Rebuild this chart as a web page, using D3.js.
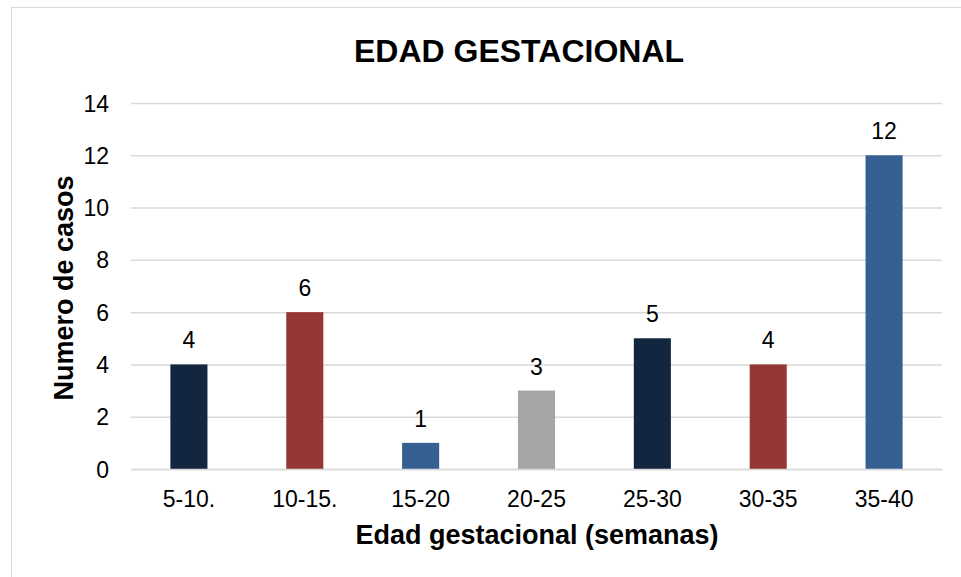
<!DOCTYPE html>
<html lang="es">
<head>
    <meta charset="UTF-8">
    <title>Edad gestacional</title>
    <style>
    html, body {
        margin: 0;
        padding: 0;
        background-color: #ffffff;
    }

    svg {
        display: block;
        font-family: "Liberation Sans", Arial, sans-serif;
    }

    .grid line {
        stroke: #d9d9d9;
        stroke-width: 1.5;
    }

    .tick-label {
        font-size: 23px;
        fill: #000000;
    }

    .bar-label {
        font-size: 23px;
        fill: #000000;
    }

    #title {
        font-size: 32px;
        font-weight: bold;
    }

    .axis-title {
        font-size: 27px;
        font-weight: bold;
    }
    </style>
    <script src="https://d3js.org/d3.v7.min.js"></script>
</head>
<body>
    <svg id="canvas"></svg>

    <script>
    // Data
    let categories = ['5-10.', '10-15.', '15-20', '20-25', '25-30', '30-35', '35-40'];
    let casos = [4, 6, 1, 3, 5, 4, 12];
    let barColors = ['#12263f', '#953735', '#376092', '#a5a5a5', '#12263f', '#953735', '#376092'];
    let yTicks = [0, 2, 4, 6, 8, 10, 12, 14];

    let width = 961;
    let height = 577;
    let plot = { left: 131, right: 942, top: 103, bottom: 469 };

    let svg = d3.select('#canvas')
        .attr('width', width)
        .attr('height', height);

    // Chart border
    svg.append('rect')
        .attr('x', 11.5)
        .attr('y', 7.5)
        .attr('width', 960)
        .attr('height', 580)
        .attr('fill', '#ffffff')
        .attr('stroke', '#d9d9d9')
        .attr('stroke-width', 1);

    // Scales
    let xScale = d3.scaleBand()
        .domain(categories)
        .range([plot.left, plot.right])
        .paddingInner(0.68)
        .paddingOuter(0.34);

    let yScale = d3.scaleLinear()
        .domain([0, 14])
        .range([plot.bottom, plot.top]);

    // Gridlines + y tick labels
    let yAxis = d3.axisLeft(yScale)
        .tickValues(yTicks)
        .tickSize(-(plot.right - plot.left))
        .tickPadding(22)
        .tickFormat(d3.format('d'));

    let gy = svg.append('g')
        .attr('class', 'grid')
        .attr('transform', 'translate(' + plot.left + ', 0)')
        .call(yAxis)
        .attr('font-family', null)
        .attr('font-size', null);
    gy.select('.domain').remove();
    gy.selectAll('text')
        .attr('class', 'tick-label')
        .attr('dy', '0.35em');

    // Bars
    svg.selectAll('.bar')
        .data(casos)
        .enter()
        .append('rect')
        .attr('class', 'bar')
        .attr('x', (d, i) => xScale(categories[i]))
        .attr('y', (d) => yScale(d))
        .attr('width', xScale.bandwidth())
        .attr('height', (d) => yScale(0) - yScale(d))
        .attr('fill', (d, i) => barColors[i]);

    // Bar labels
    svg.selectAll('.bar-label')
        .data(casos)
        .enter()
        .append('text')
        .attr('class', 'bar-label')
        .attr('text-anchor', 'middle')
        .attr('x', (d, i) => xScale(categories[i]) + xScale.bandwidth() / 2)
        .attr('y', (d) => yScale(d) - 16)
        .text((d) => d);

    // X axis
    let xAxis = d3.axisBottom(xScale)
        .tickSize(0)
        .tickPadding(22);

    let gx = svg.append('g')
        .attr('transform', 'translate(0, ' + plot.bottom + ')')
        .call(xAxis)
        .attr('font-family', null)
        .attr('font-size', null);
    gx.select('.domain')
        .attr('stroke', '#d9d9d9')
        .attr('stroke-width', 1.5);
    gx.selectAll('text')
        .attr('class', 'tick-label');

    // Titles
    svg.append('text')
        .attr('id', 'title')
        .attr('x', 519)
        .attr('y', 62)
        .attr('text-anchor', 'middle')
        .text('EDAD GESTACIONAL');

    svg.append('text')
        .attr('class', 'axis-title')
        .attr('x', 537)
        .attr('y', 544)
        .attr('text-anchor', 'middle')
        .text('Edad gestacional (semanas)');

    svg.append('text')
        .attr('class', 'axis-title')
        .attr('transform', 'translate(73, 288) rotate(-90)')
        .attr('text-anchor', 'middle')
        .text('Numero de casos');
    </script>
</body>
</html>
